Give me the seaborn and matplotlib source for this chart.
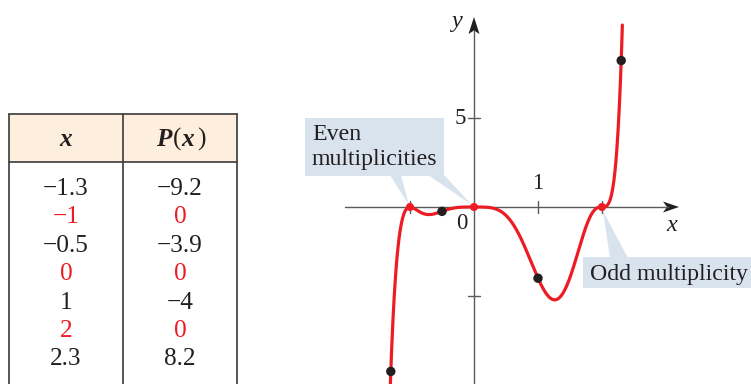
import numpy as np
import pandas as pd
import matplotlib
matplotlib.use("Agg")
import matplotlib.pyplot as plt
import seaborn as sns
from matplotlib.patches import Polygon, Rectangle

# ---- table of values -------------------------------------------------------
x_labels = ["−1.3", "−1", "−0.5", "0", "1", "2", "2.3"]
p_labels = ["−9.2", "0", "−3.9", "0", "−4", "0", "8.2"]
x_values = [-1.3, -1.0, -0.5, 0.0, 1.0, 2.0, 2.3]
is_zero = [False, True, False, True, False, True, False]

# ---- polynomial P(x) = x^4 (x + 1)^2 (x - 2)^3 -----------------------------
zeros = [-1.0, 0.0, 2.0]
multiplicities = [2, 4, 3]
x_domain = [-1.312, 2.318]

x_ticks = [-1, 1, 2]
y_ticks = [5, -5]


def P(x):
    x = np.asarray(x, dtype=float)
    out = np.ones_like(x)
    for r, m in zip(zeros, multiplicities):
        out = out * (x - r) ** m
    return out


sns.set_theme(style="white")
plt.rcParams["font.family"] = ["Liberation Serif", "DejaVu Serif"]

INK = "#231f20"
RED = "#ed1c24"
AXIS = "#5a5a5a"
CALLOUT = "#d9e3ee"
HEADER = "#fdeedd"

W, H = 751, 384
fig = plt.figure(figsize=(W / 100, H / 100), dpi=100)

# pixel-space layer for the table, callouts and arrowheads
pix = fig.add_axes([0, 0, 1, 1], zorder=0)
pix.set_xlim(0, W)
pix.set_ylim(H, 0)
pix.axis("off")

# graph layer: origin and unit lengths of the coordinate plane
ox, oy, ux, uy = 474.0, 207.0, 64.0, 17.8
ax = fig.add_axes([0, 0, 1, 1], zorder=1)
ax.patch.set_alpha(0)

# ---- table -----------------------------------------------------------------
tl, tm, tr = 9, 123, 237
ttop, thead = 114, 162
pix.add_patch(Rectangle((tl, ttop), tr - tl, thead - ttop, facecolor=HEADER,
                        edgecolor="none"))
line_kw = dict(color="#3a3a3a", lw=1.2)
pix.plot([tl, tr], [ttop, ttop], **line_kw)
pix.plot([tl, tr], [thead, thead], **line_kw)
for xv in (tl, tm, tr):
    pix.plot([xv, xv], [ttop, H + 2], **line_kw)

c1, c2 = (tl + tm) / 2, (tm + tr) / 2
TFS = 18.2
head_b = 146
pix.text(c1, head_b, "x", ha="center", va="baseline", fontsize=TFS,
         fontweight="bold", fontstyle="italic", color=INK)
# header P(x): bold italic letters, upright parentheses
pix.text(164, head_b, "P", ha="center", va="baseline", fontsize=TFS,
         fontweight="bold", fontstyle="italic", color=INK)
pix.text(177, head_b, "(", ha="center", va="baseline", fontsize=TFS, color=INK)
pix.text(188, head_b, "x", ha="center", va="baseline", fontsize=TFS,
         fontweight="bold", fontstyle="italic", color=INK)
pix.text(201, head_b, ")", ha="center", va="baseline", fontsize=TFS, color=INK)

row0, row_step = 195, 28.4
for i, (xl, pl, z) in enumerate(zip(x_labels, p_labels, is_zero)):
    col = RED if z else INK
    yb = row0 + i * row_step
    pix.text(c1, yb, xl, ha="center", va="baseline", fontsize=TFS, color=col)
    pix.text(c2, yb, pl, ha="center", va="baseline", fontsize=TFS, color=col)

# ---- callouts --------------------------------------------------------------
CFS = 17.2
even_box = [(305, 118), (444, 118), (444, 176), (305, 176)]
pix.add_patch(Polygon(even_box, closed=True, facecolor=CALLOUT, edgecolor="none"))
pix.add_patch(Polygon([(390, 175), (401, 175), (409, 205)], closed=True,
                      facecolor=CALLOUT, edgecolor="none"))
pix.add_patch(Polygon([(428, 175), (444, 175), (472, 205)], closed=True,
                      facecolor=CALLOUT, edgecolor="none"))
pix.text(312, 140, "Even", ha="left", va="baseline", fontsize=CFS, color=INK)
pix.text(312, 165, "multiplicities", ha="left", va="baseline", fontsize=CFS,
         color=INK)

odd_box = [(583, 257), (W + 1, 257), (W + 1, 288), (583, 288)]
pix.add_patch(Polygon(odd_box, closed=True, facecolor=CALLOUT, edgecolor="none"))
pix.add_patch(Polygon([(610, 258), (628, 258), (603, 211)], closed=True,
                      facecolor=CALLOUT, edgecolor="none"))
pix.text(590, 280, "Odd multiplicity", ha="left", va="baseline", fontsize=CFS,
         color=INK)

# ---- stealth arrowheads on the axes ----------------------------------------
pix.add_patch(Polygon([(679, 207), (663, 201.5), (667, 207), (663, 212.5)],
                      closed=True, facecolor=INK, edgecolor="none", zorder=3))
pix.add_patch(Polygon([(474, 17), (468.5, 34), (474, 30.5), (479.5, 34)],
                      closed=True, facecolor=INK, edgecolor="none", zorder=3))

# ---- graph of P ------------------------------------------------------------
xs = np.linspace(x_domain[0], x_domain[1], 1200)
curve = pd.DataFrame({"x": xs, "y": P(xs)})
sns.lineplot(data=curve, x="x", y="y", ax=ax, color=RED, linewidth=2.3,
             estimator=None, sort=False, zorder=4)

pts = pd.DataFrame({"x": x_values, "y": P(x_values), "zero": is_zero})
roots = pts[pts["zero"]]
others = pts[~pts["zero"]]
sns.scatterplot(data=roots, x="x", y="y", ax=ax, color=RED, s=34,
                edgecolor="none", zorder=5, legend=False)
sns.scatterplot(data=others, x="x", y="y", ax=ax, color=INK, s=46,
                edgecolor="none", zorder=5, legend=False)

ax.set_xlim(-ox / ux, (W - ox) / ux)
ax.set_ylim(-(H - oy) / uy, oy / uy)
ax.axis("off")

# ---- coordinate axes -------------------------------------------------------
x_lo, x_hi = (345 - ox) / ux, (668 - ox) / ux
y_lo, y_hi = -(H + 2 - oy) / uy, (oy - 30) / uy
ax.plot([x_lo, x_hi], [0, 0], color=AXIS, lw=1.0, zorder=2)
ax.plot([0, 0], [y_lo, y_hi], color=AXIS, lw=1.0, zorder=2)

tx_half = 6 / uy
ty_half = 6 / ux
for t in x_ticks:
    ax.plot([t, t], [-tx_half, tx_half], color=AXIS, lw=1.0, zorder=2)
for t in y_ticks:
    ax.plot([-ty_half, ty_half], [t, t], color=AXIS, lw=1.0, zorder=2)

LFS = 16.5
ax.text(-0.13, 5, "5", ha="right", va="center", fontsize=LFS, color=INK)
ax.text(1, 0.75, "1", ha="center", va="bottom", fontsize=LFS, color=INK)
ax.text(-0.19, -0.35, "0", ha="center", va="top", fontsize=LFS, color=INK)
ax.text((672 - ox) / ux, -0.45, "x", ha="center", va="top", fontsize=17.5,
        fontstyle="italic", color=INK)
ax.text((456 - ox) / ux, (oy - 22) / uy, "y", ha="center", va="center",
        fontsize=17.5, fontstyle="italic", color=INK)

fig.savefig("out.png", dpi=100)
